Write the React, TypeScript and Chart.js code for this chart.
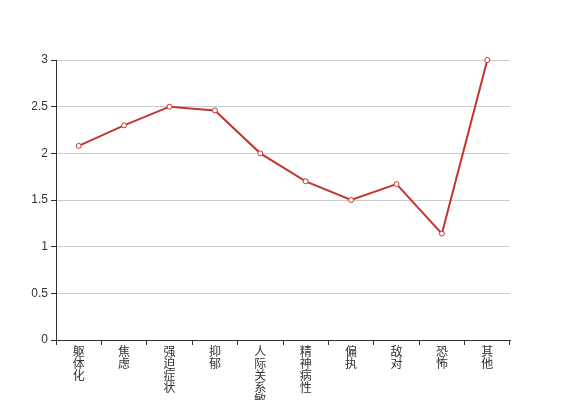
import { useEffect, useRef } from "react";
import { Chart, registerables } from "chart.js";

Chart.register(...registerables);

const categoryNames = ["躯体化", "焦虑", "强迫症状", "抑郁", "人际关系敏感", "精神病性", "偏执", "敌对", "恐怖", "其他"];
const seriesValues = [2.08, 2.3, 2.5, 2.46, 2.0, 1.7, 1.5, 1.67, 1.14, 3.0];
const yMin = 0;
const yMax = 3;
const yStep = 0.5;

const FONT = '"Liberation Sans", "Noto Sans CJK SC", sans-serif';

export default function App() {
  const ref = useRef<HTMLCanvasElement | null>(null);
  useEffect(() => {
    if (!ref.current) return;
    const chart = new Chart(ref.current, {
      type: "line",
      data: {
        labels: categoryNames.map((s) => s.split("")),
        datasets: [
          {
            data: seriesValues,
            borderColor: "#c23531",
            borderWidth: 2,
            pointBackgroundColor: "#ffffff",
            pointBorderColor: "#c23531",
            pointBorderWidth: 1,
            pointRadius: 2.5,
            tension: 0,
            clip: false as any,
          },
        ],
      },
      options: {
        animation: false,
        responsive: false,
        layout: { padding: { left: 0, right: 57, top: 60, bottom: 0 } },
        plugins: { legend: { display: false }, tooltip: { enabled: false } },
        scales: {
          x: {
            offset: true,
            grid: {
              offset: true,
              drawOnChartArea: false,
              drawTicks: true,
              tickLength: 5,
              tickColor: "#333",
            },
            border: { color: "#333", width: 1 },
            ticks: {
              autoSkip: false,
              maxRotation: 0,
              minRotation: 0,
              padding: 2,
              color: "#333",
              font: { family: FONT, size: 12, lineHeight: 1.0 },
            },
            afterFit: (scale: any) => {
              scale.height = 60;
            },
          },
          y: {
            min: yMin,
            max: yMax,
            grid: {
              color: "#ccc",
              tickColor: "#333",
              tickLength: 5,
            },
            border: { color: "#333", width: 1 },
            ticks: {
              stepSize: yStep,
              padding: 3,
              color: "#333",
              font: { family: FONT, size: 12 },
              callback: (v: any) => String(Number(v)),
            },
            afterFit: (scale: any) => {
              scale.width = 56;
            },
          },
        },
      },
    });
    return () => chart.destroy();
  }, []);
  return (
    <div style={{ position: "fixed", left: 0, top: 0, width: 567, height: 400 }}>
      <canvas ref={ref} width={567} height={400} style={{ display: "block", width: 567, height: 400 }} />
    </div>
  );
}
